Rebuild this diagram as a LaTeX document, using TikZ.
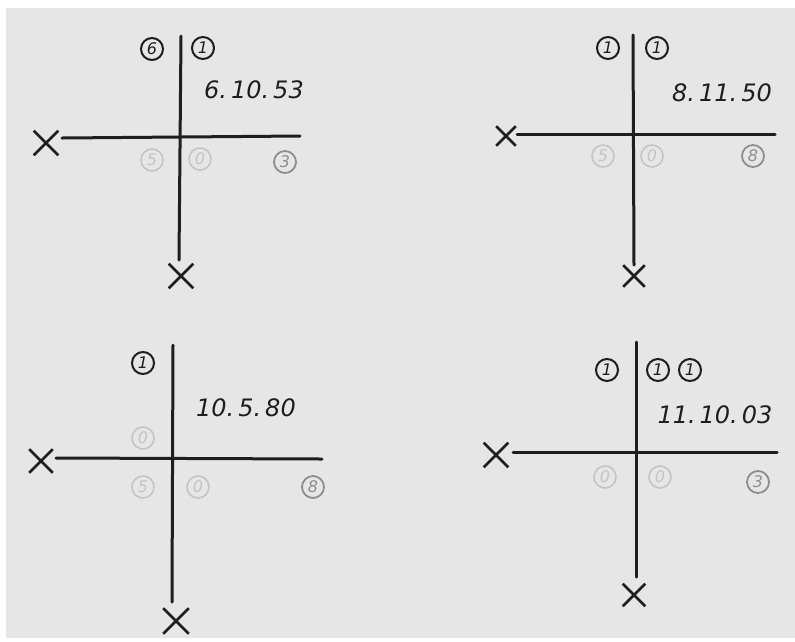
\documentclass[tikz,border=0pt]{standalone}
\usetikzlibrary{shapes.misc}
\usepackage{fontspec}
\setsansfont{DejaVu Sans}
\definecolor{paper}{HTML}{E6E6E6}
\definecolor{ink}{HTML}{1E1E1E}
\definecolor{faint}{HTML}{C4C4C4}
\definecolor{midgray}{HTML}{8E8E8E}
\begin{document}
\begin{tikzpicture}[x=1pt,y=-1pt,
  axis/.style={draw=ink,line width=3pt,line cap=round},
  xmark/.style={cross out,draw=ink,line width=2.6pt,minimum size=#1,inner sep=0pt},
  xmark/.default=20pt,
  cnum/.style={circle,draw=ink,line width=2pt,text=ink,minimum size=22pt,inner sep=0pt,font=\sffamily\itshape\fontsize{16}{16}\selectfont},
  cfaint/.style={cnum,draw=faint,text=faint,line width=1.6pt},
  cmid/.style={cnum,draw=midgray,text=midgray,line width=1.8pt},
  datelab/.style={text=ink,inner sep=0pt,font=\sffamily\itshape\fontsize{24}{24}\selectfont}
]
\useasboundingbox (0,0) rectangle (795,641);
\fill[white] (0,0) rectangle (795,641);
\fill[paper] (6,8) rectangle (795,638);

% ---------- panel 1 ----------
\coordinate (v1t) at (181,36);
\coordinate (v1b) at (179,260);
\coordinate (h1l) at (62,138);
\coordinate (h1r) at (300,136);
\draw[axis] (v1t) -- (v1b);
\draw[axis] (h1l) -- (h1r);
\node[xmark=22pt] (x1l) at (46,143) {};
\node[xmark=22pt] (x1b) at (181,276) {};
\node[cnum] (a1) at (152,49) {6};
\node[cnum] (a2) at (203,48) {1};
\node[datelab] (d1) at (254,90) {6.\,10.\,53};
\node[cfaint] (a3) at (152,160) {5};
\node[cfaint] (a4) at (200,159) {0};
\node[cmid] (a5) at (285,162) {3};

% ---------- panel 2 ----------
\coordinate (v2t) at (633,35);
\coordinate (v2b) at (634,265);
\coordinate (h2l) at (517,134);
\coordinate (h2r) at (775,134);
\draw[axis] (v2t) -- (v2b);
\draw[axis] (h2l) -- (h2r);
\node[xmark=17pt] (x2l) at (506,136) {};
\node[xmark=19pt] (x2b) at (634,276) {};
\node[cnum] (b1) at (608,48) {1};
\node[cnum] (b2) at (657,48) {1};
\node[datelab] (d2) at (722,93) {8.\,11.\,50};
\node[cfaint] (b3) at (603,156) {5};
\node[cfaint] (b4) at (652,156) {0};
\node[cmid] (b5) at (753,156) {8};

% ---------- panel 3 ----------
\coordinate (v3t) at (173,345);
\coordinate (v3b) at (172,602);
\coordinate (h3l) at (56,458);
\coordinate (h3r) at (322,459);
\draw[axis] (v3t) -- (v3b);
\draw[axis] (h3l) -- (h3r);
\node[xmark=21pt] (x3l) at (41,461) {};
\node[xmark=23pt] (x3b) at (176,621) {};
\node[cnum] (c1) at (143,363) {1};
\node[datelab] (d3) at (246,408) {10.\,5.\,80};
\node[cfaint] (c2) at (143,438) {0};
\node[cfaint] (c3) at (143,487) {5};
\node[cfaint] (c4) at (198,487) {0};
\node[cmid] (c5) at (313,487) {8};

% ---------- panel 4 ----------
\coordinate (v4t) at (636,342);
\coordinate (v4b) at (636,577);
\coordinate (h4l) at (513,452);
\coordinate (h4r) at (777,452);
\draw[axis] (v4t) -- (v4b);
\draw[axis] (h4l) -- (h4r);
\node[xmark=22pt] (x4l) at (496,455) {};
\node[xmark=20pt] (x4b) at (634,595) {};
\node[cnum] (e1) at (607,370) {1};
\node[cnum] (e2) at (658,370) {1};
\node[cnum] (e3) at (690,370) {1};
\node[datelab] (d4) at (715,415) {11.\,10.\,03};
\node[cfaint] (e4) at (605,477) {0};
\node[cfaint] (e5) at (660,477) {0};
\node[cmid] (e6) at (758,482) {3};
\end{tikzpicture}
\end{document}
